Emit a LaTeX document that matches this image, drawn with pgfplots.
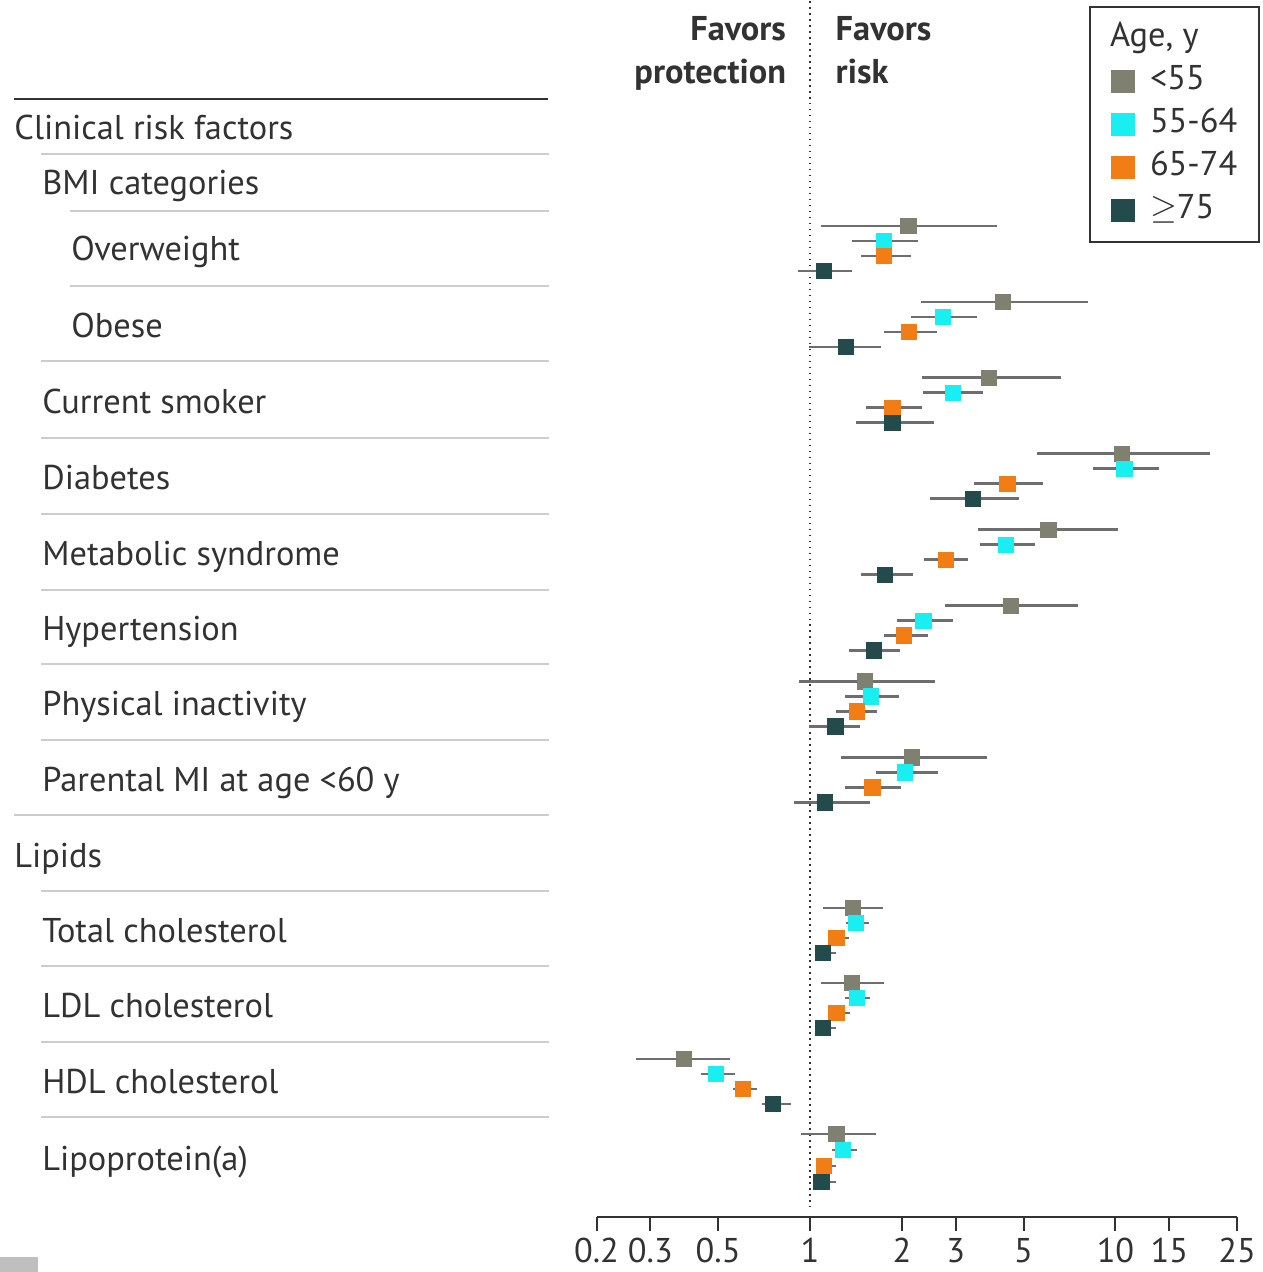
\documentclass[border=0pt]{standalone}
\usepackage{pgfplots}
\pgfplotsset{compat=1.18}
\usepackage{pgfplotstable}
\usepackage{fontspec}
\setmainfont{PT Sans}
\definecolor{cA}{RGB}{128,128,112}
\definecolor{cB}{RGB}{25,238,240}
\definecolor{cC}{RGB}{242,125,20}
\definecolor{cD}{RGB}{35,75,75}
\definecolor{ci}{RGB}{110,110,110}
\definecolor{txt}{RGB}{50,50,50}
\definecolor{sep}{RGB}{205,205,205}
\newcommand{\fs}{\fontsize{17.2}{21}\selectfont}

% age < 55
\pgfplotstableread{
y est lo hi
-225 2.10 1.09 4.10
-301 4.27 2.30 8.15
-377 3.86 2.32 6.62
-453 10.5 5.53 20.4
-529 6.03 3.55 10.2
-605 4.55 2.76 7.56
-681 1.51 0.918 2.57
-757 2.16 1.26 3.79
-908 1.38 1.10 1.73
-983 1.37 1.09 1.74
-1059 0.386 0.27 0.548
-1134 1.22 0.934 1.64
}\ageA
% age 55-64
\pgfplotstableread{
y est lo hi
-240 1.75 1.37 2.26
-316 2.73 2.14 3.53
-392 2.93 2.35 3.69
-468 10.7 8.45 13.9
-544 4.38 3.61 5.46
-620 2.35 1.93 2.93
-696 1.58 1.30 1.96
-772 2.05 1.64 2.62
-923 1.41 1.31 1.56
-998 1.42 1.30 1.57
-1074 0.493 0.44 0.566
-1150 1.28 1.18 1.43
}\ageB
% age 65-74
\pgfplotstableread{
y est lo hi
-255 1.74 1.47 2.14
-331 2.11 1.74 2.61
-407 1.86 1.52 2.33
-483 4.43 3.45 5.81
-559 2.79 2.36 3.30
-635 2.03 1.75 2.44
-711 1.42 1.22 1.66
-787 1.60 1.30 1.99
-938 1.22 1.16 1.34
-1013 1.22 1.16 1.35
-1089 0.602 0.558 0.669
-1166 1.11 1.05 1.22
}\ageC
% age >= 75
\pgfplotstableread{
y est lo hi
-270 1.11 0.91 1.37
-346 1.31 0.995 1.71
-422 1.86 1.41 2.54
-498 3.42 2.47 4.84
-574 1.76 1.47 2.18
-650 1.62 1.34 1.97
-726 1.21 0.99 1.46
-802 1.12 0.884 1.57
-953 1.10 1.05 1.22
-1028 1.10 1.05 1.22
-1104 0.755 0.697 0.867
-1182 1.09 1.05 1.22
}\ageD

\pgfplotsset{
  ageplot/.style={only marks, mark=square*, mark size=3.8pt,
    error bars/x dir=both, error bars/x explicit, error bars/error mark=none,
    error bars/error bar style={ci, line width=1.2pt, solid}},
}

\begin{document}
\begin{tikzpicture}
\begin{axis}[
  name=main,
  scale only axis, width=320.5pt, height=608.5pt,
  xmode=log, xmin=0.2, xmax=25, ymin=-1217, ymax=0,
  clip=false,
  axis x line*=bottom, axis y line=none,
  x axis line style={-, draw=txt, line width=1pt},
  xtick={0.2,0.3,0.5,1,2,3,5,10,15,25},
  xticklabels={0.2,0.3,0.5,1,2,3,5,10,15,25},
  minor xtick={},
  tick align=outside, major tick length=7pt,
  xtick style={draw=txt, line width=1pt},
  xticklabel style={font=\fs, text=txt, inner sep=3.5pt},
  legend style={at={(axis description cs:0.7691,0.9958)}, anchor=north west,
    draw=txt, line width=0.9pt, font=\fs, text=txt,
    inner xsep=11pt, inner ysep=8pt, row sep=6pt,
    nodes={inner sep=0pt, text height=12pt, text depth=3.5pt}},
  legend cell align=left,
  legend image code/.code={\path[draw=none] (0pt,0pt) (19pt,0pt);
     \draw[#1, mark size=5.4pt] plot coordinates {(5.5pt,0pt)};},
]
\addplot[forget plot, draw=txt, line width=1pt, dash pattern=on 0.8pt off 2.2pt]
  coordinates {(1,0) (1,-1207)};
\addlegendimage{empty legend}
\addlegendentry{\hspace*{-20pt}Age, y}
\addplot[ageplot, cA] table[x=est, y=y,
  x error plus expr=\thisrow{hi}-\thisrow{est},
  x error minus expr=\thisrow{est}-\thisrow{lo}] {\ageA};
\addlegendentry{<55}
\addplot[ageplot, cB] table[x=est, y=y,
  x error plus expr=\thisrow{hi}-\thisrow{est},
  x error minus expr=\thisrow{est}-\thisrow{lo}] {\ageB};
\addlegendentry{55-64}
\addplot[ageplot, cC] table[x=est, y=y,
  x error plus expr=\thisrow{hi}-\thisrow{est},
  x error minus expr=\thisrow{est}-\thisrow{lo}] {\ageC};
\addlegendentry{65-74}
\addplot[ageplot, cD] table[x=est, y=y,
  x error plus expr=\thisrow{hi}-\thisrow{est},
  x error minus expr=\thisrow{est}-\thisrow{lo}] {\ageD};
\addlegendentry{$\geq$75}
\end{axis}
\begin{scope}[shift={(main.south west)}, x=0.5pt, y=-0.5pt, shift={(-597,-1217)},
  every node/.style={inner sep=0pt, text=txt, font=\fs}]
\path (0,0) rectangle (1263,1272);
\fill[black!25] (0,1257) rectangle (38,1272);
\draw[txt, line width=1.3pt] (14,98) -- (548,98);
\foreach \x/\y in {41/153,70/210,70/285,41/360,41/437,41/513,41/589,41/664,41/740,14/815,41/891,41/966,41/1042,41/1117}
  \draw[sep, line width=1pt] (\x,\y) -- (549,\y);
\node[anchor=base west] at (14,139) {Clinical risk factors};
\node[anchor=base west] at (42,194) {BMI categories};
\node[anchor=base west] at (71,260) {Overweight};
\node[anchor=base west] at (71,337) {Obese};
\node[anchor=base west] at (42,413) {Current smoker};
\node[anchor=base west] at (42,489) {Diabetes};
\node[anchor=base west] at (42,565) {Metabolic syndrome};
\node[anchor=base west] at (42,640) {Hypertension};
\node[anchor=base west] at (42,715) {Physical inactivity};
\node[anchor=base west] at (42,791) {Parental MI at age <60 y};
\node[anchor=base west] at (14,867) {Lipids};
\node[anchor=base west] at (42,942) {Total cholesterol};
\node[anchor=base west] at (42,1017) {LDL cholesterol};
\node[anchor=base west] at (42,1093) {HDL cholesterol};
\node[anchor=base west] at (42,1170) {Lipoprotein(a)};
\node[anchor=base east, font=\fs\bfseries] at (787,40) {Favors};
\node[anchor=base east, font=\fs\bfseries] at (787,83) {protection};
\node[anchor=base west, font=\fs\bfseries] at (836,40) {Favors};
\node[anchor=base west, font=\fs\bfseries] at (836,83) {risk};
\end{scope}
\end{tikzpicture}
\end{document}
